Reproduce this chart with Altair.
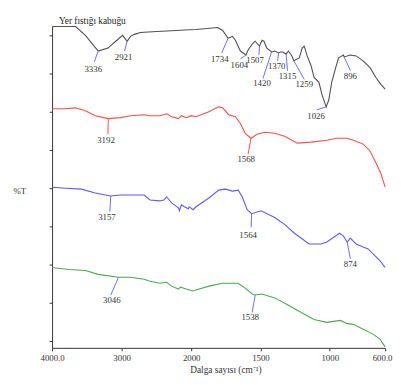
import altair as alt
import pandas as pd

# ---- spectra (wavenumber cm-1, %T in arbitrary stacked units) ----
black_wn = [4000, 3662, 3521, 3408, 3336, 3197, 3085, 2986, 2921, 2873, 2817, 2732, 2493, 2352, 2211, 2100,
            1965, 1809, 1773, 1734, 1702, 1681, 1645, 1604, 1589, 1560, 1539, 1507, 1489, 1475, 1454, 1420,
            1397, 1370, 1355, 1340, 1315, 1298, 1277, 1259, 1220, 1199, 1184, 1163, 1135, 1113, 1078, 1057,
            1026, 1007, 986, 957, 936, 901, 896, 851, 809, 759, 709, 667, 631, 600]
black_t = [328, 328, 319, 309, 303, 306, 313, 319, 313, 318, 320, 322, 323, 323.5, 324, 324.5,
           325, 327, 324, 316, 318, 314, 303, 299, 304, 310, 313, 308, 314, 313, 306, 302,
           303, 301, 302, 302, 300, 303, 299, 293, 296, 306, 308, 298, 288, 276, 271, 259,
           246, 253, 271, 286, 296, 299, 297, 299, 298, 293, 286, 276, 269, 264]

red_wn = [4000, 3831, 3662, 3521, 3380, 3192, 3014, 2873, 2676, 2592, 2451, 2352, 2282, 2183, 2141, 2070,
          2000, 1965, 1872, 1801, 1773, 1730, 1681, 1645, 1610, 1568, 1525, 1468, 1397, 1326, 1234, 1135,
          1021, 950, 879, 830, 759, 709, 667, 631, 600]
red_t = [244, 244, 245, 242, 237, 234, 235, 237, 238, 237, 237, 239, 236, 234, 237, 235,
         237, 236, 241, 246, 245, 238, 236, 229, 219, 214, 218, 220, 219, 216, 209, 210,
         212, 214, 214, 212, 208, 201, 189, 178, 164]

blue_wn = [4000, 3803, 3577, 3380, 3157, 3014, 2676, 2592, 2451, 2394, 2352, 2282, 2183, 2169, 2141, 2099,
           2042, 2028, 1986, 1965, 1872, 1801, 1752, 1702, 1660, 1631, 1596, 1564, 1496, 1397, 1326, 1255,
           1149, 1064, 1021, 929, 901, 874, 851, 809, 759, 723, 638, 600]
blue_t = [164, 163, 162, 158, 155, 156, 156, 151, 150, 151, 154, 148, 143, 140, 146, 144,
          142, 144, 141, 144, 153, 161, 162, 160, 161, 154, 141, 137, 140, 133, 126, 117,
          106, 106, 108, 117, 114, 108, 112, 106, 103, 101, 89, 82]

green_wn = [4000, 3761, 3521, 3338, 3046, 2873, 2676, 2592, 2451, 2352, 2282, 2183, 2155, 2070, 1986, 1965,
            1872, 1773, 1660, 1610, 1560, 1538, 1489, 1397, 1305, 1206, 1113, 1021, 922, 879, 830, 759,
            688, 638, 600]
green_t = [82, 80, 79, 75, 72, 72, 70, 68, 66, 67, 63, 60, 62, 60, 58, 59,
           63, 66, 66, 61, 55, 54, 55, 51, 44, 36, 29, 26, 28, 25, 24, 19,
           14, 9, 1]

series_names = ["black", "red", "blue", "green"]
series_colors = ["#505050", "#ff4c4c", "#5a5aff", "#4fa84f"]

# ---- peak annotations: label, curve point, leader end, text position ----
ann_label = ["3336", "2921", "1734", "1604", "1507", "1420", "1370", "1315", "1259", "1026", "896",
             "3192", "1568", "3157", "1564", "874", "3046", "1538"]
ann_wn0 = [3336, 2921, 1734, 1604, 1507, 1420, 1370, 1315, 1259, 1026, 896,
           3192, 1568, 3157, 1564, 874, 3046, 1538]
ann_t0 = [303, 313, 316, 299, 308, 302, 301, 300, 293, 246, 297,
          234, 214, 155, 137, 108, 72, 54]
ann_wn1 = [3394, 2958, 1780, 1645, 1511, 1482, 1376, 1305, 1184, 1092, 851,
           3197, 1589, 3169, 1567, 851, 3155, 1560]
ann_t1 = [292, 303, 301, 295, 299, 275, 293, 283, 274, 243, 283,
          218, 198, 139, 123, 91, 54, 36]
ann_wnt = [3408, 2972, 1794, 1652, 1539, 1489, 1383, 1305, 1184, 1099, 851,
           3225, 1603, 3211, 1589, 851, 3141, 1574]
ann_tt = [285, 297, 295, 289, 294, 270, 288, 277, 269, 237, 277,
          212, 193, 134, 115, 86, 49, 31]
ann_color = ["#6a6aff"] * 11 + ["#ff4c4c", "#ff4c4c"] + ["#6a6aff"] * 5

x_ticks = [4000, 3000, 2000, 1500, 1000, 600]
x_tick_labels = ["4000.0", "3000", "2000", "1500", "1000", "600.0"]
y_ticks = [7, 26.5, 46, 65.5, 85, 104.5, 124, 143.5, 163, 182.5, 202, 221.5, 241, 260.5, 280, 299.5, 319]

sample_name = "Yer fıstığı kabuğu"

rows = []
for name, wn, t in [("black", black_wn, black_t), ("red", red_wn, red_t),
                    ("blue", blue_wn, blue_t), ("green", green_wn, green_t)]:
    for i, (a, b) in enumerate(zip(wn, t)):
        rows.append({"series": name, "idx": i, "wn": a, "t": b})
spec = pd.DataFrame(rows)

ann = pd.DataFrame({"label": ann_label, "wn0": ann_wn0, "t0": ann_t0, "wn1": ann_wn1, "t1": ann_t1,
                    "wnt": ann_wnt, "tt": ann_tt, "color": ann_color})
title_df = pd.DataFrame({"label": [sample_name], "wn": [3901], "t": [334]})

FONT = "Liberation Serif"

label_expr = ""
for v, lab in zip(x_ticks, x_tick_labels):
    label_expr += f"datum.value == {v} ? '{lab}' : "
label_expr += "datum.label"

last_tick = x_ticks[-1]

xscale = alt.Scale(domain=[4000, 2000, 600], range=[0, 142, 340], nice=False, zero=False)
yscale = alt.Scale(domain=[0, 328], nice=False, zero=False)

x_axis = alt.Axis(values=x_ticks, labelExpr=label_expr, title="Dalga sayısı (cm⁻¹)",
                  grid=False, tickSize=3, labelPadding=3, labelFont=FONT, labelFontSize=9,
                  labelColor="#333", titleFont=FONT, titleFontSize=9.5, titleFontWeight="normal",
                  titleColor="#333", titleX=177, titleY=22, titleBaseline="middle",
                  domainColor="#333", tickColor="#333", labelFlush=False,
                  labelAlign={"condition": {"test": f"datum.value == {last_tick}", "value": "right"},
                              "value": "center"},
                  labelOffset={"condition": {"test": f"datum.value == {last_tick}", "value": 7},
                               "value": 0})
y_axis = alt.Axis(values=y_ticks, labels=False, grid=False, tickSize=3, title="%T",
                  titleAngle=0, titleX=-40, titleY=167, titleAlign="left", titleBaseline="middle",
                  titleFont=FONT, titleFontSize=9, titleFontWeight="normal", titleColor="#333",
                  domainColor="#333", tickColor="#333")

lines = alt.Chart(spec).mark_line(strokeWidth=1.1).encode(
    x=alt.X("wn:Q", scale=xscale, axis=x_axis),
    y=alt.Y("t:Q", scale=yscale, axis=y_axis),
    color=alt.Color("series:N", scale=alt.Scale(domain=series_names, range=series_colors), legend=None),
    order="idx:Q",
)

leaders = alt.Chart(ann).mark_rule(strokeWidth=1).encode(
    x=alt.X("wn0:Q", scale=xscale), y=alt.Y("t0:Q", scale=yscale),
    x2="wn1:Q", y2="t1:Q",
    color=alt.Color("color:N", scale=None),
)

labels = alt.Chart(ann).mark_text(font=FONT, fontSize=9, color="#333", align="center",
                                  baseline="middle").encode(
    x=alt.X("wnt:Q", scale=xscale), y=alt.Y("tt:Q", scale=yscale), text="label:N",
)

title_txt = alt.Chart(title_df).mark_text(font=FONT, fontSize=9.5, color="#222", align="left",
                                          baseline="middle").encode(
    x=alt.X("wn:Q", scale=xscale), y=alt.Y("t:Q", scale=yscale), text="label:N",
)

chart = alt.layer(lines, leaders, labels, title_txt).properties(
    width=340, height=328,
    autosize=alt.AutoSizeParams(type="none"),
    padding={"left": 45, "top": 15, "right": 8, "bottom": 34},
).configure_view(stroke=None)

chart.save("out.html", embed_options={"renderer": "svg", "actions": False})
